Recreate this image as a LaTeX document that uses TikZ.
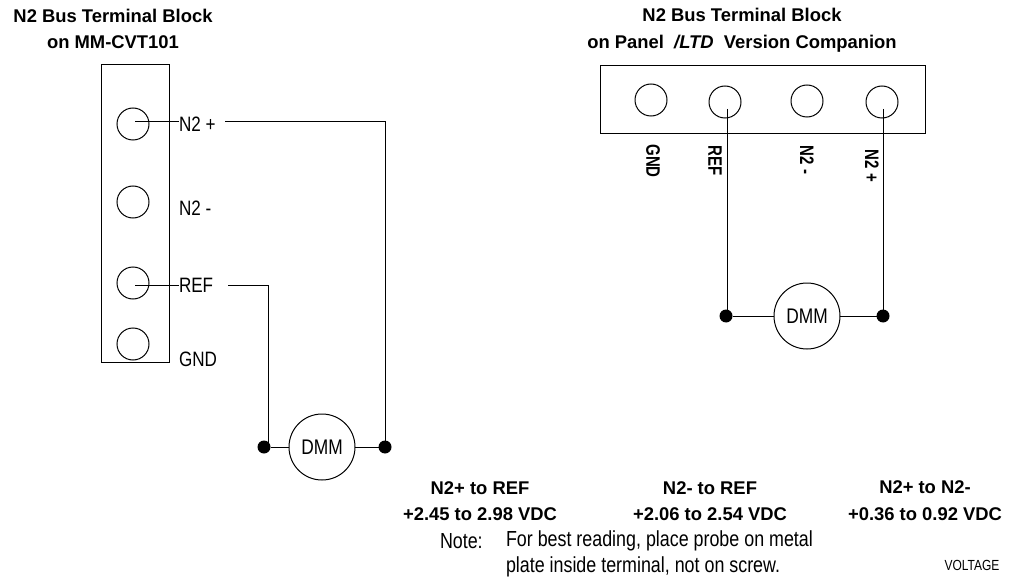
\documentclass[tikz,border=0pt]{standalone}
\usepackage{fontspec}
\setmainfont{Liberation Sans}
\usetikzlibrary{positioning}
\newcommand{\pinname}[1]{\scalebox{1}[1.3]{#1}}
\newcommand{\tallname}[1]{\scalebox{1}[1.22]{#1}}

\begin{document}
\begin{tikzpicture}[x=0.75pt,y=-0.75pt,line width=0.75pt,node distance=58.5pt]
	\tikzset{every node/.style={inner sep=0pt,outer sep=0pt}}
	\tikzset{term/.style={circle,draw,minimum size=24pt}}
	\tikzset{dmm/.style={circle,draw,minimum size=49.5pt,font=\fontsize{13}{16}\selectfont}}
	\tikzset{dot/.style={circle,fill=black,minimum size=9.75pt}}
	\tikzset{lbl/.style={anchor=west,font=\fontsize{12.8}{16}\selectfont}}
	\tikzset{head/.style={align=center,font=\bfseries\fontsize{13.8}{20}\selectfont}}
	\tikzset{pin/.style={rotate=-90,font=\bfseries\fontsize{11.25}{14}\selectfont}}
	\tikzset{note/.style={anchor=west,font=\fontsize{13.4}{16}\selectfont}}
	\useasboundingbox (0,0) rectangle (1017,581);

	% left block
	\node[head] (hl) at (113,29) {N2 Bus Terminal Block\\on MM-CVT101};
	\draw (101,65) rectangle (169,362);
	\node[term] (t1) at (133,124) {};
	\node[term] (t2) at (133,202) {};
	\node[term] (t3) at (133,283) {};
	\node[term] (t4) at (133,344) {};
	\node[lbl] (np) at (179,124) {\tallname{N2 +}};
	\node[lbl] (nm) at (179,208) {\tallname{N2 -}};
	\node[lbl] (rf) at (179,285) {\tallname{REF}};
	\node[lbl] (gd) at (179,359) {\tallname{GND}};
	\node[dmm] (m1) at (322,447) {\tallname{DMM}};
	\node[dot] (d1) at (264,447) {};
	\node[dot] (d2) at (385,447) {};
	\coordinate (a1) at (135,122);
	\coordinate (a2) at (179,122);
	\coordinate (a3) at (225,122);
	\coordinate (b1) at (135,285);
	\coordinate (b2) at (179,285);
	\coordinate (b3) at (228,285);
	\coordinate (b4) at (268,447);
	\draw (a1) -- (a2);
	\draw (a3) -| (d2);
	\draw (b1) -- (b2);
	\draw (b3) -| (b4);
	\draw (d1) -- (m1);
	\draw (m1) -- (d2);

	% right block
	\node[head] (hr) at (742,30) {N2 Bus Terminal Block\\on Panel \textit{\ /LTD\ } Version Companion};
	\draw (600,66) rectangle (925,134);
	\node[term] (r1) at (651,100) {};
	\node[term] (r2) at (725,102) {};
	\node[term] (r3) at (807,101) {};
	\node[term] (r4) at (882,102) {};
	\node[pin] (pg) at (653,161) {\pinname{GND}};
	\node[pin] (pr) at (715,161) {\pinname{REF}};
	\node[pin] (pm) at (807,160) {\pinname{N2 -}};
	\node[pin] (pp) at (872,166) {\pinname{N2 +}};
	\node[dmm] (m2) at (807,316) {\tallname{DMM}};
	\node[dot] (d3) at (726,316) {};
	\node[dot] (d4) at (883,316) {};
	\coordinate (c1) at (727,109);
	\coordinate (c2) at (883,109);
	\draw (c1) -- (c1 |- d3);
	\draw (c2) -- (d4);
	\draw (d3) -- (m2);
	\draw (m2) -- (d4);

	% readings
	\node[head] (v1) at (480,501) {N2+ to REF\\+2.45 to 2.98 VDC};
	\node[head] (v2) at (710,501) {N2- to REF\\+2.06 to 2.54 VDC};
	\node[head] (v3) at (925,501) {N2+ to N2-\\+0.36 to 0.92 VDC};
	\node[note] (n0) at (440,541) {\tallname{Note:}};
	\node[note] (n1) at (506,541) {\tallname{For best reading, place probe on metal}};
	\node[note] (n2) at (506,567) {\tallname{plate inside terminal, not on screw.}};
	\node[font=\fontsize{9}{11}\selectfont] (vt) at (972,565) {\tallname{VOLTAGE}};
\end{tikzpicture}
\end{document}
